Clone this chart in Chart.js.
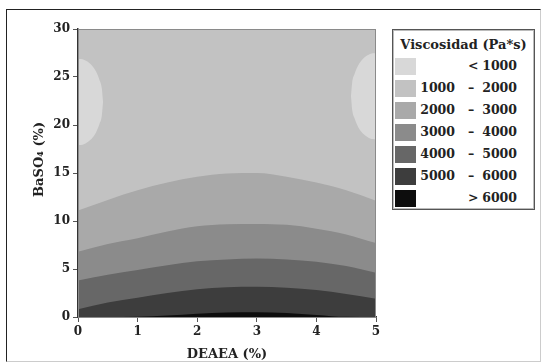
<!DOCTYPE html>
<html>
<head>
<meta charset="utf-8">
<script src="https://cdn.jsdelivr.net/npm/chart.js@4"></script>
<style>
  html, body { margin: 0; padding: 0; background: #fff; }
  #wrap { position: relative; width: 542px; height: 362px; overflow: hidden; }
  #frame { position: absolute; left: 6px; top: 9px; width: 533px; height: 351px;
    border-left: 1px solid #222; border-top: 1px solid #222; border-right: 1px solid #ccc; border-bottom: 1px solid #ccc; }
  canvas { position: absolute; left: 0; top: 0; }
  #legend { position: absolute; left: 392px; top: 29px; width: 141px; height: 179px;
    border: 1px solid #555; box-shadow: inset 0 0 0 1px #bbb; background: #fff;
    font: bold 12.5px "DejaVu Serif", serif; color: #222; }
  #legend .title { position: absolute; left: 0; width: 100%; top: 7px; text-align: center; font-size: 13px; }
  #legend .row { position: absolute; left: 2px; height: 17px; width: 136px; }
  #legend .sw { position: absolute; left: 0; top: 0; width: 21px; height: 17px; }
  #legend .a { position: absolute; right: 76px; top: 0px; }
  #legend .d { position: absolute; left: 73px; top: 0px; }
  #legend .b { position: absolute; right: 14px; top: 0px; }
</style>
</head>
<body>
<div id="wrap">
  <div id="frame"></div>
  <canvas id="chart" width="542" height="362"></canvas>
  <div id="legend"><div class="title">Viscosidad (Pa*s)</div></div>
</div>
<script>
// Niveles de viscosidad (leyenda)
const levelLabels = [["", "<", "1000"], ["1000", "–", "2000"], ["2000", "–", "3000"], ["3000", "–", "4000"],
  ["4000", "–", "5000"], ["5000", "–", "6000"], ["", ">", "6000"]]
const levelColors = ["#d8d8d8", "#c2c2c2", "#a9a9a9", "#8b8b8b", "#676767", "#3d3d3d", "#0d0d0d"]

// DEAEA (%) donde se leen las curvas de nivel
const deaea = [0, 0.5, 1, 1.5, 2, 2.5, 3, 3.5, 4, 4.5, 5]
// BaSO4 (%) de cada frontera
const limite2000 = [11.1, 12.2, 13.2, 14.0, 14.6, 14.95, 15.0, 14.6, 14.0, 13.2, 12.1]
const limite3000 = [6.8, 7.6, 8.2, 8.9, 9.45, 9.65, 9.7, 9.6, 9.2, 8.6, 7.7]
const limite4000 = [3.8, 4.4, 4.9, 5.4, 5.8, 6.0, 6.1, 6.0, 5.75, 5.3, 4.6]
const limite5000 = [0.8, 1.5, 2.0, 2.5, 2.9, 3.1, 3.15, 3.05, 2.8, 2.4, 1.9]
const limite6000 = [0, 0, 0.02, 0.15, 0.35, 0.48, 0.5, 0.42, 0.22, 0.02, 0]

// Zonas < 1000 en los bordes
const loboIzqX = [0, 0.1, 0.2, 0.3, 0.36, 0.4, 0.42]
const loboIzqSup = [26.9, 26.8, 26.4, 25.6, 24.7, 23.8, 22.4]
const loboIzqInf = [17.9, 18.0, 18.4, 19.2, 20.1, 21.0, 22.4]
const loboDerX = [4.58, 4.6, 4.64, 4.7, 4.8, 4.9, 5]
const loboDerSup = [23.0, 24.4, 25.3, 26.2, 27.0, 27.4, 27.5]
const loboDerInf = [23.0, 21.6, 20.7, 19.8, 19.0, 18.6, 18.5]

const xTicks = [0, 1, 2, 3, 4, 5]
const yTicks = [0, 5, 10, 15, 20, 25, 30]

// Leyenda HTML
const legend = document.getElementById("legend")
levelLabels.forEach((lab, i) => {
  const row = document.createElement("div")
  row.className = "row"
  row.style.top = 28 + i * 22 + "px"
  row.innerHTML = `<div class="sw" style="background:${levelColors[i]}"></div>` +
    `<span class="a">${lab[0]}</span><span class="d">${lab[1]}</span><span class="b">${lab[2]}</span>`
  legend.appendChild(row)
})

const pts = (xs, ys) => xs.map((x, i) => ({ x: x, y: ys[i] }))

function banda(data, color, fill) {
  return {
    data: data,
    backgroundColor: color,
    borderColor: "rgba(0,0,0,0)",
    borderWidth: 1,
    pointRadius: 0,
    fill: fill,
    cubicInterpolationMode: "monotone",
  }
}

const fondo = {
  id: "fondo",
  beforeDatasetsDraw(chart) {
    const { ctx, chartArea: a } = chart
    ctx.save()
    ctx.fillStyle = levelColors[1]
    ctx.fillRect(a.left, a.top, a.right - a.left, a.bottom - a.top)
    ctx.restore()
  },
  afterDatasetsDraw(chart) {
    const { ctx, chartArea: a } = chart
    ctx.save()
    ctx.strokeStyle = "#8a8a8a"
    ctx.lineWidth = 1
    ctx.strokeRect(a.left + 0.5, a.top + 0.5, a.right - a.left - 1, a.bottom - a.top)
    ctx.restore()
  },
}

const fuente = { family: "'DejaVu Serif', serif", weight: "bold", size: 12 }
const fuenteTitulo = { family: "'DejaVu Serif', serif", weight: "bold", size: 13 }

new Chart(document.getElementById("chart"), {
  type: "line",
  data: {
    datasets: [
      banda(pts(deaea, limite6000), levelColors[6], "start"),
      banda(pts(deaea, limite5000), levelColors[5], "start"),
      banda(pts(deaea, limite4000), levelColors[4], "start"),
      banda(pts(deaea, limite3000), levelColors[3], "start"),
      banda(pts(deaea, limite2000), levelColors[2], "start"),
      banda(pts(loboIzqX, loboIzqSup), levelColors[0], "+1"),
      banda(pts(loboIzqX, loboIzqInf), levelColors[0], false),
      banda(pts(loboDerX, loboDerSup), levelColors[0], "+1"),
      banda(pts(loboDerX, loboDerInf), levelColors[0], false),
    ],
  },
  plugins: [fondo],
  options: {
    responsive: false,
    animation: false,
    layout: { padding: { left: 0, top: 29, right: 166, bottom: 0 } },
    plugins: { legend: { display: false }, tooltip: { enabled: false } },
    scales: {
      x: {
        type: "linear",
        min: 0,
        max: 5,
        afterFit: (s) => { s.height = 45 },
        afterBuildTicks: (s) => { s.ticks = xTicks.map((v) => ({ value: v })) },
        border: { color: "#333", width: 1.5 },
        grid: { drawOnChartArea: false, color: "#555", tickLength: 5 },
        ticks: { color: "#222", font: fuente, padding: 3 },
        title: { display: true, text: "DEAEA (%)", color: "#222", font: fuenteTitulo, padding: { top: 0, bottom: 0 } },
      },
      y: {
        min: 0,
        max: 30,
        afterFit: (s) => { s.width = 78 },
        afterBuildTicks: (s) => { s.ticks = yTicks.map((v) => ({ value: v })) },
        border: { color: "#333", width: 1.5 },
        grid: { drawOnChartArea: false, color: "#555", tickLength: 5 },
        ticks: { color: "#222", font: fuente, padding: 3 },
        title: { display: true, text: "      BaSO₄ (%)", color: "#222", font: fuenteTitulo, padding: { top: 32, bottom: 0 } },
      },
    },
  },
})
</script>
</body>
</html>
